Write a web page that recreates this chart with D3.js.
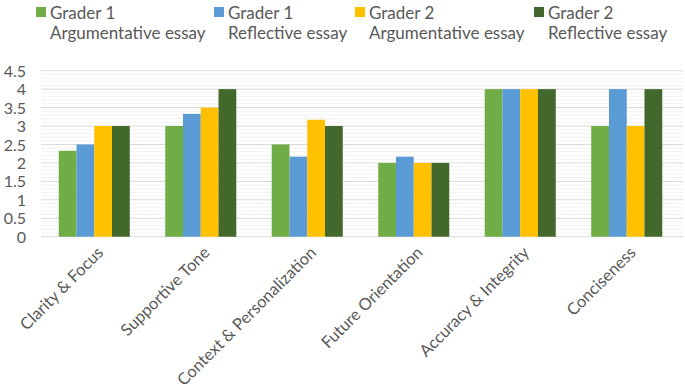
<!DOCTYPE html>
<html><head><meta charset="utf-8">
<script src="https://cdn.jsdelivr.net/npm/d3@7"></script>
<style>
body{margin:0;background:#fff;}
text{font-family:Lato, "Open Sans", sans-serif;fill:#595959;}
</style></head>
<body><svg id="c" width="685" height="392"></svg>
<script>
const categories = ["Clarity & Focus","Supportive Tone","Context & Personalization","Future Orientation","Accuracy & Integrity","Conciseness"];
const seriesNames = [["Grader 1","Argumentative essay"],["Grader 1","Reflective essay"],["Grader 2","Argumentative essay"],["Grader 2","Reflective essay"]];
const g1Argumentative = [2.33, 3, 2.5, 2, 4, 3];
const g1Reflective    = [2.5, 3.33, 2.17, 2.17, 4, 4];
const g2Argumentative = [3, 3.5, 3.17, 2, 4, 3];
const g2Reflective    = [3, 4, 3, 2, 4, 4];
const yTicks = [0,0.5,1,1.5,2,2.5,3,3.5,4,4.5];
const colors = ["#70AD47","#5B9BD5","#FFC000","#43682B"];
const series = [g1Argumentative,g1Reflective,g2Argumentative,g2Reflective];

const svg = d3.select("#c");
const y = d3.scaleLinear().domain([0,4.5]).range([236.7,70.7]);
const x = d3.scaleBand().domain(categories).range([41,680]).paddingInner(0.333).paddingOuter(0.1667);
const xs = d3.scaleBand().domain(d3.range(4)).range([0,x.bandwidth()]);

// minor grid
const minor = d3.range(0,45).map(d=>d/10).filter(v=>Math.round(v*10)%5!==0);
svg.append("g").selectAll("line").data(minor).join("line")
  .attr("x1",41).attr("x2",683).attr("y1",d=>y(d)).attr("y2",d=>y(d))
  .attr("stroke","#F2F2F2").attr("stroke-width",1);
svg.append("g").selectAll("line").data(yTicks).join("line")
  .attr("x1",41).attr("x2",683).attr("y1",d=>y(d)).attr("y2",d=>y(d))
  .attr("stroke","#D9D9D9").attr("stroke-width",1);

// y axis labels
const ya = svg.append("g").attr("transform","translate(26,0)")
  .call(d3.axisLeft(y).tickValues(yTicks).tickSize(0).tickPadding(0).tickFormat(d3.format("")));
ya.select(".domain").remove();
ya.selectAll("text").style("font-size","16px").attr("fill","#595959").attr("dy","0.35em");

// bars
series.forEach((s,i)=>{
  svg.append("g").selectAll("rect").data(s).join("rect")
    .attr("x",(d,j)=>x(categories[j])+xs(i))
    .attr("width",xs.bandwidth())
    .attr("y",d=>y(d)).attr("height",d=>y(0)-y(d))
    .attr("fill",colors[i]);
});

// x labels
const xa = svg.append("g").attr("transform",`translate(0,${y(0)})`)
  .call(d3.axisBottom(x).tickSize(0).tickPadding(0));
xa.select(".domain").remove();
xa.selectAll("text").style("font-size","16.5px").attr("fill","#595959")
  .attr("text-anchor","end").attr("dy","0").attr("y",0)
  .attr("transform","translate(10,17) rotate(-45)");

// legend
const legX = [36,214,355,534];
seriesNames.forEach((n,i)=>{
  const g = svg.append("g").attr("transform",`translate(${legX[i]},0)`);
  g.append("rect").attr("x",0).attr("y",7).attr("width",10).attr("height",10).attr("fill",colors[i]);
  g.append("text").attr("x",14).attr("y",19).style("font-size","17px").text(n[0]);
  g.append("text").attr("x",14).attr("y",39).style("font-size","17px").text(n[1]);
});
</script></body></html>
